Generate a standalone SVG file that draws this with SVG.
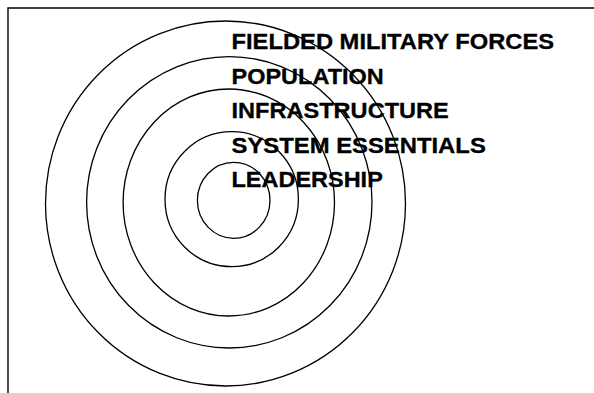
<svg xmlns="http://www.w3.org/2000/svg" width="594" height="393" viewBox="0 0 594 393">
<style>
.ring{fill:none;stroke:#000;stroke-width:1.3}
.frame{fill:none;stroke:#000;stroke-width:1.4}
.lbl{font-family:"Liberation Sans",Arial,sans-serif;font-weight:bold;font-size:22.5px;fill:#000;stroke:#000;stroke-width:0.3}
</style>
<rect width="594" height="393" fill="#fff"/>
<path class="frame" d="M8,393 V8 H594"/>
<g id="rings">
<ellipse id="ring-fielded" class="ring" cx="225.5" cy="203.5" rx="180" ry="182.5"/>
<ellipse id="ring-population" class="ring" cx="229.3" cy="202.3" rx="142.7" ry="145.7"/>
<ellipse id="ring-infrastructure" class="ring" cx="228.8" cy="202.5" rx="105.7" ry="113.5"/>
<ellipse id="ring-system" class="ring" cx="231.7" cy="199.2" rx="66.7" ry="67.5"/>
<ellipse id="ring-leadership" class="ring" cx="233.7" cy="200.3" rx="36.3" ry="38"/>
</g>
<g id="labels">
<text class="lbl" x="231.5" y="49" textLength="322.6" lengthAdjust="spacingAndGlyphs">FIELDED MILITARY FORCES</text>
<text class="lbl" x="231.5" y="83.5" textLength="152.3" lengthAdjust="spacingAndGlyphs">POPULATION</text>
<text class="lbl" x="231.5" y="118" textLength="217.3" lengthAdjust="spacingAndGlyphs">INFRASTRUCTURE</text>
<text class="lbl" x="231.5" y="152.5" textLength="254.3" lengthAdjust="spacingAndGlyphs">SYSTEM ESSENTIALS</text>
<text class="lbl" x="231.5" y="187" textLength="151.3" lengthAdjust="spacingAndGlyphs">LEADERSHIP</text>
</g>
</svg>
